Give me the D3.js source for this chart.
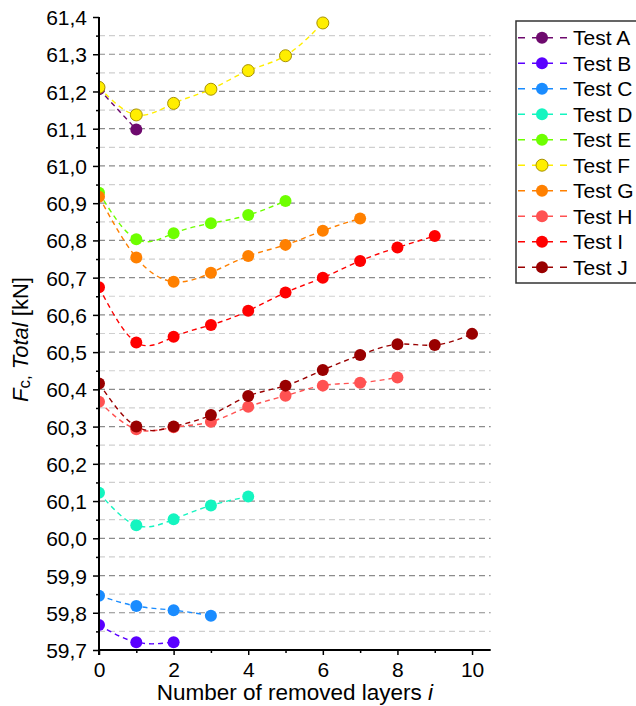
<!DOCTYPE html>
<html>
<head>
<meta charset="utf-8">
<script src="https://cdnjs.cloudflare.com/ajax/libs/d3/7.8.5/d3.min.js"></script>
<style>
  html, body { margin: 0; padding: 0; background: #fff; }
  svg { display: block; font-family: "Liberation Sans", Arial, sans-serif; }
</style>
</head>
<body>
<svg id="chart" width="636" height="706"></svg>
<script>
// ---- data ----
const layers = [0, 1, 2, 3, 4, 5, 6, 7, 8, 9, 10];
const testNames = ["Test A", "Test B", "Test C", "Test D", "Test E", "Test F", "Test G", "Test H", "Test I", "Test J"];
const testA = [61.206, 61.098];
const testB = [59.767, 59.721, 59.721];
const testC = [59.846, 59.818, 59.807, 59.792];
const testD = [60.122, 60.035, 60.051, 60.088, 60.112];
const testE = [60.928, 60.803, 60.819, 60.846, 60.868, 60.906];
const testF = [61.211, 61.137, 61.168, 61.206, 61.256, 61.296, 61.384];
const testG = [60.917, 60.754, 60.689, 60.713, 60.758, 60.788, 60.826, 60.859];
const testH = [60.367, 60.293, 60.298, 60.313, 60.353, 60.383, 60.410, 60.418, 60.432];
const testI = [60.674, 60.526, 60.541, 60.573, 60.611, 60.660, 60.700, 60.745, 60.781, 60.812];
const testJ = [60.416, 60.300, 60.300, 60.331, 60.382, 60.410, 60.452, 60.492, 60.521, 60.519, 60.549];
const colors = ["#6e0a6e", "#5a00ff", "#1a8cff", "#14f5c0", "#6eff00", "#ffee00", "#ff8000", "#ff5252", "#ff0000", "#990000"];
const yMajorTicks = [59.7, 59.8, 59.9, 60.0, 60.1, 60.2, 60.3, 60.4, 60.5, 60.6, 60.7, 60.8, 60.9, 61.0, 61.1, 61.2, 61.3, 61.4];
const yMinorTicks = [59.75, 59.85, 59.95, 60.05, 60.15, 60.25, 60.35, 60.45, 60.55, 60.65, 60.75, 60.85, 60.95, 61.05, 61.15, 61.25, 61.35];
const xMajorTicks = [0, 2, 4, 6, 8, 10];
const xMinorTicks = [1, 3, 5, 7, 9];

const allTests = [testA, testB, testC, testD, testE, testF, testG, testH, testI, testJ];

// ---- layout ----
const L = 99, R = 490.7, T = 17, B = 650;
const svg = d3.select("#chart");
const x = d3.scaleLinear().domain([0, 10.5]).range([L, R]);
const y = d3.scaleLinear().domain([59.7, 61.4]).range([B, T]);
const fmt = v => d3.format(".1f")(v).replace(".", ",");

// grid
const grid = svg.append("g");
grid.selectAll("line.minor").data(yMinorTicks).join("line")
  .attr("x1", L).attr("x2", R).attr("y1", d => y(d)).attr("y2", d => y(d))
  .attr("stroke", "#cfcfcf").attr("stroke-width", 1.2).attr("stroke-dasharray", "6,4");
grid.selectAll("line.major").data(yMajorTicks.filter(d => d > 59.75 && d < 61.35)).join("line")
  .attr("x1", L).attr("x2", R).attr("y1", d => y(d)).attr("y2", d => y(d))
  .attr("stroke", "#8c8c8c").attr("stroke-width", 1.2).attr("stroke-dasharray", "6,4");

// clip
svg.append("defs").append("clipPath").attr("id", "plotclip")
  .append("rect").attr("x", L).attr("y", 0).attr("width", 636 - L).attr("height", B);

const plot = svg.append("g").attr("clip-path", "url(#plotclip)");
const line = d3.line().x((d, i) => x(layers[i])).y(d => y(d)).curve(d3.curveNatural);

allTests.forEach((vals, k) => {
  plot.append("path").datum(vals)
    .attr("d", line)
    .attr("fill", "none")
    .attr("stroke", colors[k])
    .attr("stroke-width", 1.4)
    .attr("stroke-dasharray", "5,4");
});
allTests.forEach((vals, k) => {
  plot.selectAll(null).data(vals).join("circle")
    .attr("cx", (d, i) => x(layers[i]))
    .attr("cy", d => y(d))
    .attr("r", 6)
    .attr("fill", colors[k])
    .attr("stroke", k === 5 ? "#a89200" : "none")
    .attr("stroke-width", 1);
});

// axes
const yAxis = svg.append("g").attr("transform", `translate(${L},0)`)
  .call(d3.axisLeft(y).tickValues(yMajorTicks).tickSize(6).tickPadding(6).tickFormat(fmt));
const yMinor = svg.append("g").attr("transform", `translate(${L},0)`)
  .call(d3.axisLeft(y).tickValues(yMinorTicks).tickSize(3).tickFormat(""));
const xAxis = svg.append("g").attr("transform", `translate(0,${B})`)
  .call(d3.axisBottom(x).tickValues(xMajorTicks).tickSize(5).tickPadding(6).tickFormat(d => d));
const xMinor = svg.append("g").attr("transform", `translate(0,${B})`)
  .call(d3.axisBottom(x).tickValues(xMinorTicks).tickSize(3).tickFormat(""));

[yAxis, yMinor, xAxis, xMinor].forEach(g => {
  g.select(".domain").attr("stroke", "#000").attr("stroke-width", 2);
  g.selectAll(".tick line").attr("stroke", "#000").attr("stroke-width", 1.5);
  g.selectAll(".tick text").attr("fill", "#000").attr("font-size", 21)
    .attr("font-family", "Liberation Sans, Arial, sans-serif");
});
yAxis.selectAll(".tick text").attr("dy", "0.36em");
xAxis.selectAll(".tick text").attr("dy", "0.76em");
yAxis.select(".domain").attr("d", `M0,${B + 5}V${T}`);
yMinor.select(".domain").remove();
xMinor.select(".domain").remove();
xAxis.select(".domain").attr("d", `M${L - 1},0H${R}`);

// axis titles
svg.append("text")
  .attr("x", (L + R) / 2).attr("y", 700)
  .attr("text-anchor", "middle").attr("font-size", 22.5).attr("fill", "#000")
  .call(t => {
    t.append("tspan").text("Number of removed layers ");
    t.append("tspan").attr("font-style", "italic").text("i");
  });

const yl = svg.append("text")
  .attr("transform", `translate(28,${(T + B) / 2 + 6}) rotate(-90)`)
  .attr("text-anchor", "middle").attr("font-size", 22).attr("fill", "#000");
yl.append("tspan").attr("font-style", "italic").text("F");
yl.append("tspan").attr("font-size", 17).attr("dy", 2).text("c,");
yl.append("tspan").attr("font-style", "italic").attr("dy", -2).text(" Total");
yl.append("tspan").text(" [kN]");

// legend
const leg = svg.append("g");
leg.append("rect").attr("x", 516).attr("y", 21).attr("width", 140).attr("height", 262)
  .attr("fill", "#fff").attr("stroke", "#333").attr("stroke-width", 1.5);
testNames.forEach((name, k) => {
  const cy = 37.7 + k * 25.5;
  leg.append("line").attr("x1", 518).attr("x2", 567).attr("y1", cy).attr("y2", cy)
    .attr("stroke", colors[k]).attr("stroke-width", 1.4).attr("stroke-dasharray", "7,7");
  leg.append("circle").attr("cx", 542).attr("cy", cy).attr("r", 6)
    .attr("fill", colors[k]).attr("stroke", k === 5 ? "#a89200" : "none");
  leg.append("text").attr("x", 573).attr("y", cy + 7.5).attr("font-size", 21).attr("fill", "#000").text(name);
});
</script>
</body>
</html>
